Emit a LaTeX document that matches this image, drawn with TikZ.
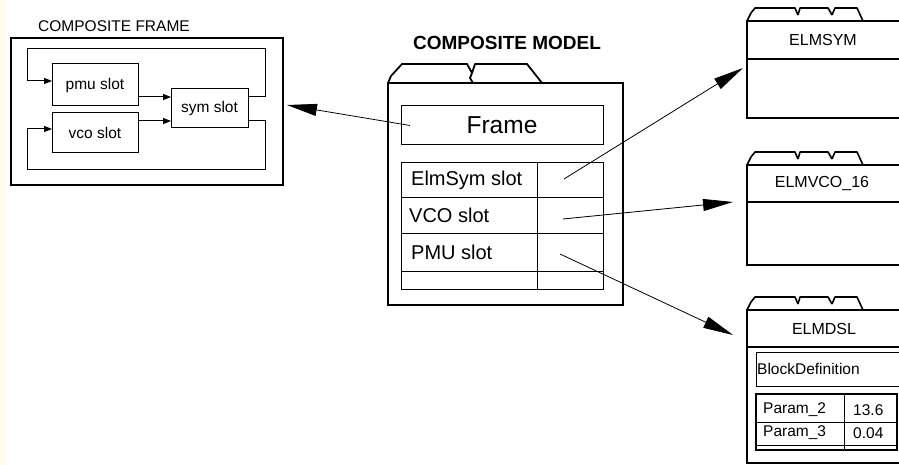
\documentclass[tikz,border=0pt]{standalone}
\usepackage{fontspec}
\setmainfont{Liberation Sans}
\usetikzlibrary{arrows.meta,calc}
\begin{document}
\begin{tikzpicture}[x=1pt,y=-1pt,
  box/.style={draw, line width=1pt, inner sep=0pt, outer sep=0pt, anchor=north west},
  rbox/.style={draw, line width=2pt, inner sep=0pt, outer sep=0pt, anchor=north west},
  small/.style={font=\fontsize{15.5}{18}\selectfont, inner sep=0pt},
  celltxt/.style={font=\fontsize{20}{24}\selectfont, inner sep=0pt, anchor=west},
  hdr/.style={font=\fontsize{16}{19}\selectfont, inner sep=0pt},
  farr/.style={line width=1pt, -{Triangle[length=8pt,width=6pt]}},
  bigarr/.style={line width=0.8pt, -{Triangle[length=30pt,width=12pt]}},
  sepline/.style={line width=2pt},
  tabs/.pic={\draw[line width=1.6pt, line join=round]
     (0,0)--(4,-8)--(8,-13)--(48,-13)--(51,-6)
     (51,-6)--(53,-13)--(81,-13)--(85,-6)
     (85,-6)--(88,-13)--(110,-13)--(116,0);}
]
\useasboundingbox (0,0) rectangle (899,465);
\clip (0,0) rectangle (899,465);
\fill[white] (0,0) rectangle (899,465);
\fill[yellow!7] (0,0) rectangle (5,465);

% ---------- composite frame ----------
\node[small, anchor=west] (cftitle) at (38,26) {COMPOSITE FRAME};
\node[box, line width=1.2pt, minimum width=272pt, minimum height=147pt] (cframe) at (11,38) {};
\node[box, small, minimum width=86pt, minimum height=42pt] (pmu) at (52,64) {pmu slot};
\node[box, small, minimum width=86pt, minimum height=40pt] (vco) at (52,113) {vco slot};
\node[box, small, minimum width=77pt, minimum height=39pt] (sym) at (171,89) {sym slot};

\coordinate (p1) at ([yshift=-12pt]pmu.east);
\coordinate (v1) at ([yshift=12pt]vco.east);
\draw[farr] (p1) -- (p1 -| sym.west);
\draw[farr] (v1) -- (v1 -| sym.west);
\draw[farr] ([yshift=11.5pt]sym.east) -- ++(17,0) |- (27,49) |- ([yshift=4pt]pmu.west);
\draw[farr] ([yshift=-12.5pt]sym.east) -- ++(17,0) |- (27,170) |- ([yshift=4pt]vco.west);

% ---------- composite model ----------
\node[font=\bfseries\fontsize{19}{22}\selectfont, inner sep=0pt] (mtitle) at (507,43) {COMPOSITE MODEL};
\node[box, line width=2.5pt, minimum width=235pt, minimum height=222pt] (model) at (388,83) {};
\draw[line width=1.8pt, line join=round]
  (388,83)--(391,76)--(402,64)--(467,64)--(472,73)--(470,78)--(473,83)
  (472,73)--(475,64)--(527,64)--(542,83);
\node[box, minimum width=202pt, minimum height=39pt, font=\fontsize{24.5}{28}\selectfont] (frame) at (401,106) {Frame};

\node[box, minimum width=136pt, minimum height=35pt] (l1) at (401,163) {};
\node[box, minimum width=66pt, minimum height=35pt] (r1) at (537,163) {};
\node[box, minimum width=136pt, minimum height=35pt] (l2) at (401,198) {};
\node[box, minimum width=66pt, minimum height=35pt] (r2) at (537,198) {};
\node[box, minimum width=136pt, minimum height=38pt] (l3) at (401,233) {};
\node[box, minimum width=66pt, minimum height=38pt] (r3) at (537,233) {};
\node[box, minimum width=136pt, minimum height=18pt] (l4) at (401,271) {};
\node[box, minimum width=66pt, minimum height=18pt] (r4) at (537,271) {};
\node[celltxt] (t1) at ([xshift=10pt]l1.west) {ElmSym slot};
\node[celltxt] (t2) at ([xshift=8pt]l2.west) {VCO slot};
\node[celltxt] (t3) at ([xshift=10pt]l3.west) {PMU slot};

% ---------- right boxes ----------
\pic at (747,21) {tabs};
\node[rbox, minimum width=163pt, minimum height=97pt] (elmsym) at (747,21) {};
\draw[sepline] (747,59) -- (910,59);
\node[hdr] (hsym) at (823,40) {ELMSYM};

\pic at (747,165) {tabs};
\node[rbox, minimum width=163pt, minimum height=100pt] (elmvco) at (747,165) {};
\draw[sepline] (747,202) -- (910,202);
\node[hdr] (hvco) at (822,183.5) {ELMVCO\_16};

\pic at (747,310) {tabs};
\node[rbox, minimum width=163pt, minimum height=153pt] (elmdsl) at (747,310) {};
\draw[sepline] (747,347) -- (910,347);
\node[hdr] (hdsl) at (824,328.5) {ELMDSL};

\node[box, minimum width=160pt, minimum height=34pt] (bdef) at (756,352) {};
\node[small, anchor=west] (bdeft) at (757,369) {BlockDefinition};
\node[box, line width=2pt, minimum width=141pt, minimum height=56pt] (ptab) at (756,394) {};
\draw[line width=1pt] (756,422) -- (897,422) (756,445) -- (897,445) (844,394) -- (844,450);
\node[small, anchor=west] (pa2) at (763,410) {Param\_2};
\node[small, anchor=west] (pv2) at (853,410) {13.6};
\node[small, anchor=west] (pa3) at (763,433) {Param\_3};
\node[small, anchor=west] (pv3) at (853,433) {0.04};

% ---------- connectors ----------
\coordinate (fs) at ([xshift=9pt]frame.west);
\coordinate (fe) at ([xshift=4pt,yshift=6.5pt]cframe.east);
\draw[bigarr] (fs) -- (fe);
\draw[bigarr] ([xshift=-6pt,yshift=1.5pt]r1.center) -- ([xshift=-4pt,yshift=1.5pt]elmsym.west);
\draw[bigarr] ([xshift=-7pt,yshift=-3.5pt]r2.center) -- ([xshift=-14pt,yshift=13pt]elmvco.west);
\draw[bigarr] ([xshift=-10pt,yshift=-2pt]r3.center) -- ([xshift=-14pt,yshift=51.5pt]elmdsl.west);
\end{tikzpicture}
\end{document}
